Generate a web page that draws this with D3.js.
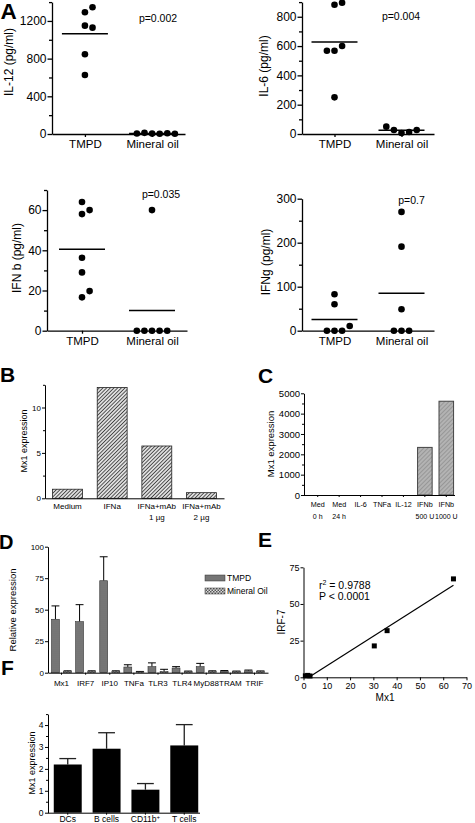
<!DOCTYPE html>
<html><head><meta charset="utf-8">
<script src="https://cdn.jsdelivr.net/npm/d3@7"></script>
<style>body{margin:0;background:#fff}svg{display:block;font-family:"Liberation Sans",Arial,sans-serif}</style>
</head><body><svg id="c" width="475" height="823"></svg>
<script>
// ---------- Panel A data ----------
const aGroups = ["TMPD", "Mineral oil"];
const il12Tmpd = [1293, 1345, 1150, 1129, 846, 626];
const il12Oil = [4, 2, 12, 8, 5, 3];
const il6Tmpd = [882, 896, 568, 600, 568, 250];
const il6Oil = [7, 14, 27, 27, 50];
const ifnbTmpd = [64, 58, 60, 36.3, 29, 16.6, 19.7];
const ifnbOil = [60, 0, 0, 0, 0, 0];
const ifngTmpd = [83, 60, 0, 0, 0, 10.6];
const ifngOil = [270, 191, 48.6, 0, 0, 0];
const aPvalues = ["p=0.002", "p=0.004", "p=0.035", "p=0.7"];
const aLabels = ["IL-12 (pg/ml)", "IL-6 (pg/ml)", "IFN b (pg/ml)", "IFNg (pg/ml)"];
const il12Major = [0, 400, 800, 1200], il12Minor = [200, 600, 1000, 1400];
const il6Major = [0, 200, 400, 600, 800], il6Minor = [100, 300, 500, 700, 900];
const ifnbMajor = [0, 20, 40, 60], ifnbMinor = [10, 30, 50, 70];
const ifngMajor = [0, 100, 200, 300], ifngMinor = [50, 150, 250];

// ---------- Panel B data ----------
const bLine1 = ["Medium", "IFNa", "IFNa+mAb", "IFNa+mAb"];
const bLine2 = ["", "", "1 µg", "2 µg"];
const bValues = [1.0, 12.2, 5.76, 0.62];
const bMajor = [0, 5, 10], bMinor = [2.5, 7.5, 12.5];

// ---------- Panel C data ----------
const cLine1 = ["Med", "Med", "IL-6", "TNFa", "IL-12", "IFNb", "IFNb"];
const cLine2 = ["0 h", "24 h", "", "", "", "500 U", "1000 U"];
const cValues = [0, 0, 0, 0, 0, 2340, 4610];
const cMajor = [0, 1000, 2000, 3000, 4000, 5000], cMinor = [500, 1500, 2500, 3500, 4500];

// ---------- Panel D data ----------
const dGenes = ["Mx1", "IRF7", "IP10", "TNFa", "TLR3", "TLR4", "MyD88", "TRAM", "TRIF"];
const dSeries = ["TMPD", "Mineral Oil"];
const dTmpd = [42.4, 40.5, 73, 4.5, 4.8, 3.7, 4.8, 1.2, 1.5];
const dTmpdErr = [10.6, 13.5, 19, 1.8, 3.0, 1.1, 2.6, 0.5, 0.6];
const dOil = [1.0, 1.0, 1.0, 0.6, 1.0, 0.8, 0.9, 0.8, 0.9];
const dOilErr = [0.5, 0.5, 0.5, 0.4, 1.7, 0.5, 0.6, 0.5, 0.5];
const dMajor = [0, 25, 50, 75, 100];

// ---------- Panel E data ----------
const eMx1 = [64.4, 35.9, 30.4, 0.8, 1.8, 2.8];
const eIrf7 = [67.1, 31.8, 21.4, 1.0, 1.3, 0.9];
const eYTicks = [0, 25, 50, 75];
const eXTicks = [0, 10, 20, 30, 40, 50, 60, 70];

// ---------- Panel F data ----------
const fCells = ["DCs", "B cells", "CD11b", "T cells"];
const fValues = [2.2, 2.92, 1.05, 3.07];
const fErr = [0.27, 0.73, 0.28, 0.95];
const fMajor = [0, 1, 2, 3, 4], fMinor = [0.5, 1.5, 2.5, 3.5, 4.5];

// ================= drawing =================
const FONT = '"Liberation Sans", Arial, sans-serif';
const svg = d3.select("#c");
svg.append("rect").attr("width", 475).attr("height", 823).attr("fill", "#fff");
const defs = svg.append("defs");

function hatch(id, size, bg, stroke, sw, angle) {
  const p = defs.append("pattern").attr("id", id).attr("width", size).attr("height", size)
    .attr("patternUnits", "userSpaceOnUse").attr("patternTransform", `rotate(${angle})`);
  p.append("rect").attr("width", size).attr("height", size).attr("fill", bg);
  p.append("line").attr("x1", size / 2).attr("y1", 0).attr("x2", size / 2).attr("y2", size)
    .attr("stroke", stroke).attr("stroke-width", sw);
}
hatch("patB", 2.6, "#ececec", "#444", 1.0, 45);
hatch("patC", 3, "#b3b3b3", "#8f8f8f", 0.8, 45);
hatch("patD1", 2, "#949494", "#505050", 0.9, 90);
const p2 = defs.append("pattern").attr("id", "patD2").attr("width", 3).attr("height", 3).attr("patternUnits", "userSpaceOnUse");
p2.append("rect").attr("width", 3).attr("height", 3).attr("fill", "#dcdcdc");
p2.append("rect").attr("width", 1.5).attr("height", 1.5).attr("fill", "#555");
p2.append("rect").attr("x", 1.5).attr("y", 1.5).attr("width", 1.5).attr("height", 1.5).attr("fill", "#555");

function styleAxis(g, fs, sw) {
  g.selectAll("path,line").attr("stroke", "#000").attr("stroke-width", sw);
  g.selectAll("text").attr("font-size", fs).attr("fill", "#000").attr("font-family", FONT);
}
function leftAxis(scale, x, majors, minors, fs, majLen, minLen, sw, pad) {
  const g = svg.append("g").attr("transform", `translate(${x},0)`)
    .call(d3.axisLeft(scale).tickValues(majors).tickSize(majLen).tickSizeOuter(0).tickPadding(pad).tickFormat(d3.format("d")));
  styleAxis(g, fs, sw);
  if (minors && minors.length) {
    const gm = svg.append("g").attr("transform", `translate(${x},0)`)
      .call(d3.axisLeft(scale).tickValues(minors).tickSize(minLen).tickSizeOuter(0).tickFormat(""));
    gm.select(".domain").remove();
    styleAxis(gm, fs, sw);
  }
  return g;
}
function letter(t, x, y, size) {
  svg.append("text").attr("x", x).attr("y", y).attr("font-size", size).attr("font-weight", "bold")
    .attr("font-family", FONT).text(t);
}
function yLabel(t, cx, cy, size) {
  svg.append("text").attr("transform", `translate(${cx},${cy}) rotate(-90)`).attr("text-anchor", "middle")
    .attr("dy", "0.35em").attr("font-size", size).attr("font-family", FONT).text(t);
}
function swarm(values, y, r) {
  const placed = [];
  return values.map(v => {
    const py = y(v);
    for (const k of [0, 1, -1, 2, -2, 3, -3, 4, -4]) {
      if (!placed.some(p => p.k === k && Math.abs(p.py - py) < 2 * r)) {
        placed.push({ k, py });
        return { v, k, py };
      }
    }
    return { v, k: 0, py };
  });
}

// ---------- Panel A ----------
function scatterPanel(c) {
  const y = d3.scaleLinear().domain([0, c.yTop]).range([c.y0, c.y1]);
  const x = d3.scalePoint().domain(aGroups).range([c.x0, c.x1]).padding(c.xPad);
  leftAxis(y, c.x0, c.majors, c.minors, 12, 4.5, 3, 1.3, 1);
  const gx = svg.append("g").attr("transform", `translate(0,${c.y0})`)
    .call(d3.axisBottom(x).tickSize(3).tickSizeOuter(0).tickPadding(3.3));
  styleAxis(gx, 11.5, 1.3);
  const d = 7.6, r = 3.3;
  [c.tmpd, c.oil].forEach((vals, i) => {
    const cx = x(aGroups[i]);
    const pts = swarm(vals, y, r);
    svg.append("g").selectAll("circle").data(pts).join("circle")
      .attr("cx", p => cx + p.k * d).attr("cy", p => p.py).attr("r", r).attr("fill", "#000");
    const m = d3.mean(vals);
    svg.append("line").attr("x1", cx - 23).attr("x2", cx + 23).attr("y1", y(m)).attr("y2", y(m))
      .attr("stroke", "#000").attr("stroke-width", 1.5);
  });
  svg.append("text").attr("x", c.px).attr("y", c.py).attr("text-anchor", "middle").attr("font-size", 10.5)
    .attr("font-family", FONT).text(c.p);
  yLabel(c.label, c.lx, c.ly, 12);
}
scatterPanel({ tmpd: il12Tmpd, oil: il12Oil, yTop: 1400, y0: 134, y1: 2.1, x0: 52, x1: 185, xPad: 0.49,
  majors: il12Major, minors: il12Minor, p: aPvalues[0], px: 158, py: 22, label: aLabels[0], lx: 8.5, ly: 62 });
scatterPanel({ tmpd: il6Tmpd, oil: il6Oil, yTop: 900, y0: 134, y1: 2.1, x0: 302, x1: 434, xPad: 0.485,
  majors: il6Major, minors: il6Minor, p: aPvalues[1], px: 401, py: 19.5, label: aLabels[1], lx: 263.5, ly: 66 });
scatterPanel({ tmpd: ifnbTmpd, oil: ifnbOil, yTop: 70, y0: 330.7, y1: 190, x0: 47, x1: 187, xPad: 0.5,
  majors: ifnbMajor, minors: ifnbMinor, p: aPvalues[2], px: 161, py: 197.5, label: aLabels[2], lx: 17, ly: 258 });
scatterPanel({ tmpd: ifngTmpd, oil: ifngOil, yTop: 300, y0: 330.7, y1: 198.7, x0: 302, x1: 434, xPad: 0.485,
  majors: ifngMajor, minors: ifngMinor, p: aPvalues[3], px: 411.5, py: 204, label: aLabels[3], lx: 265.5, ly: 262 });
letter("A", 0.5, 19, 22.5);

// ---------- Panel B ----------
{
  const x = d3.scaleBand().domain(d3.range(bValues.length)).range([45, 224]).paddingInner(0.33).paddingOuter(0.17);
  const y = d3.scaleLinear().domain([0, 12.5]).range([498.3, 384.8]);
  svg.append("g").selectAll("rect").data(bValues).join("rect")
    .attr("x", (v, i) => x(i)).attr("y", v => y(v)).attr("width", x.bandwidth()).attr("height", v => y(0) - y(v))
    .attr("fill", "url(#patB)").attr("stroke", "#222").attr("stroke-width", 0.8);
  leftAxis(y, 45, bMajor, bMinor, 8, 3, 2, 1, 1);
  const gx = svg.append("g").attr("transform", `translate(0,${y(0)})`)
    .call(d3.axisBottom(x).tickSize(0).tickSizeOuter(0).tickPadding(5.5).tickFormat(i => bLine1[i]));
  styleAxis(gx, 8, 1);
  gx.selectAll(".tick").append("text").attr("y", 22).attr("fill", "#000").attr("font-size", 8)
    .attr("font-family", FONT).attr("text-anchor", "middle").text(i => bLine2[i]);
  yLabel("Mx1 expression", 24, 441, 9);
  letter("B", 0, 382, 21);
}

// ---------- Panel C ----------
{
  const x = d3.scaleBand().domain(d3.range(cValues.length)).range([304, 460]).paddingInner(0.32).paddingOuter(0.3);
  const y = d3.scaleLinear().domain([0, 5000]).range([495, 393.3]);
  svg.append("g").selectAll("rect").data(cValues).join("rect")
    .attr("x", (v, i) => x(i)).attr("y", v => y(v)).attr("width", x.bandwidth()).attr("height", v => y(0) - y(v))
    .attr("fill", "url(#patC)").attr("stroke", v => v > 0 ? "#444" : "none").attr("stroke-width", 1);
  leftAxis(y, 304, cMajor, cMinor, 9.5, 3, 2, 1, 1);
  const gx = svg.append("g").attr("transform", `translate(0,${y(0)})`)
    .call(d3.axisBottom(x).tickSize(2).tickSizeOuter(0).tickPadding(4.5).tickFormat(i => cLine1[i]));
  gx.select(".domain").attr("d", `M304,0.5H455`);
  styleAxis(gx, 7.2, 1);
  gx.selectAll(".tick").append("text").attr("y", 24).attr("fill", "#000").attr("font-size", 7)
    .attr("font-family", FONT).attr("text-anchor", "middle").text(i => cLine2[i]);
  yLabel("Mx1 expression", 270.5, 444, 9.5);
  letter("C", 258, 383, 21);
}

// ---------- Panel D ----------
{
  const x = d3.scaleBand().domain(dGenes).range([48, 268]).paddingInner(0.12).paddingOuter(0.12);
  const xs = d3.scaleBand().domain(dSeries).range([0, x.bandwidth()]).paddingInner(0.35).paddingOuter(0.05);
  const y = d3.scaleLinear().domain([0, 100]).range([672.7, 546.7]);
  const rows = [];
  dGenes.forEach((g, i) => {
    rows.push({ g, s: dSeries[0], v: dTmpd[i], e: dTmpdErr[i], fill: "url(#patD1)" });
    rows.push({ g, s: dSeries[1], v: dOil[i], e: dOilErr[i], fill: "url(#patD2)" });
  });
  const bw = xs.bandwidth();
  const gb = svg.append("g");
  gb.selectAll("line.err").data(rows).join("line").attr("class", "err")
    .attr("x1", d => x(d.g) + xs(d.s) + bw / 2).attr("x2", d => x(d.g) + xs(d.s) + bw / 2)
    .attr("y1", d => y(d.v)).attr("y2", d => y(d.v + d.e)).attr("stroke", "#000").attr("stroke-width", 1);
  gb.selectAll("line.cap").data(rows).join("line").attr("class", "cap")
    .attr("x1", d => x(d.g) + xs(d.s)).attr("x2", d => x(d.g) + xs(d.s) + bw)
    .attr("y1", d => y(d.v + d.e)).attr("y2", d => y(d.v + d.e)).attr("stroke", "#000").attr("stroke-width", 1);
  gb.selectAll("rect").data(rows).join("rect")
    .attr("x", d => x(d.g) + xs(d.s)).attr("y", d => y(d.v)).attr("width", bw).attr("height", d => y(0) - y(d.v))
    .attr("fill", d => d.fill).attr("stroke", "#333").attr("stroke-width", 0.6);
  leftAxis(y, 48, dMajor, [], 8, 3, 2, 1, 1);
  const gx = svg.append("g").attr("transform", `translate(0,${y(0)})`)
    .call(d3.axisBottom(x).tickSize(2).tickSizeOuter(0).tickPadding(5.6));
  styleAxis(gx, 8, 1);
  yLabel("Relative expression", 13, 610, 9.5);
  const lg = svg.append("g");
  dSeries.forEach((s, i) => {
    lg.append("rect").attr("x", 205).attr("y", 575 + i * 13).attr("width", 20).attr("height", 6)
      .attr("fill", i === 0 ? "url(#patD1)" : "url(#patD2)").attr("stroke", "#333").attr("stroke-width", 0.5);
    lg.append("text").attr("x", 227).attr("y", 581 + i * 13).attr("font-size", 8.5).attr("font-family", FONT).text(s);
  });
  letter("D", -1, 548.5, 20);
}

// ---------- Panel E ----------
{
  const x = d3.scaleLinear().domain([0, 70]).range([303.5, 466.5]);
  const y = d3.scaleLinear().domain([0, 75]).range([677.3, 567.3]);
  leftAxis(y, 303.5, eYTicks, [], 9, 3, 2, 1, 1);
  const gx = svg.append("g").attr("transform", `translate(0,${y(0)})`)
    .call(d3.axisBottom(x).tickValues(eXTicks).tickSize(3).tickSizeOuter(0).tickPadding(2).tickFormat(d3.format("d")));
  styleAxis(gx, 9, 1);
  const mx = d3.mean(eMx1), my = d3.mean(eIrf7);
  const sxy = d3.sum(eMx1, (v, i) => (v - mx) * (eIrf7[i] - my));
  const sxx = d3.sum(eMx1, v => (v - mx) ** 2);
  const b = sxy / sxx, a = my - b * mx;
  const xStart = Math.max(d3.min(eMx1), -a / b), xEnd = d3.max(eMx1);
  svg.append("line").attr("x1", x(xStart)).attr("y1", y(a + b * xStart)).attr("x2", x(xEnd)).attr("y2", y(a + b * xEnd))
    .attr("stroke", "#000").attr("stroke-width", 1.2);
  svg.append("g").selectAll("rect").data(eMx1).join("rect")
    .attr("x", (v) => x(v) - 2.5).attr("y", (v, i) => y(eIrf7[i]) - 2.5).attr("width", 5).attr("height", 5).attr("fill", "#000");
  const t1 = svg.append("text").attr("x", 319).attr("y", 589).attr("font-size", 10.5).attr("font-family", FONT);
  t1.append("tspan").text("r");
  t1.append("tspan").attr("dy", -4).attr("font-size", 7).text("2");
  t1.append("tspan").attr("dy", 4).text(" = 0.9788");
  svg.append("text").attr("x", 319).attr("y", 600).attr("font-size", 10.5).attr("font-family", FONT).text("P < 0.0001");
  svg.append("text").attr("x", 385).attr("y", 701).attr("text-anchor", "middle").attr("font-size", 10).attr("font-family", FONT).text("Mx1");
  yLabel("IRF-7", 281, 622, 10);
  letter("E", 258, 547, 21);
}

// ---------- Panel F ----------
{
  const x = d3.scaleBand().domain(fCells).range([46, 206]).paddingInner(0.28).paddingOuter(0.2);
  const y = d3.scaleLinear().domain([0, 4.5]).range([812.7, 714.1]);
  const bw = x.bandwidth();
  const g = svg.append("g");
  g.selectAll("line.err").data(fCells).join("line").attr("class", "err")
    .attr("x1", c => x(c) + bw / 2).attr("x2", c => x(c) + bw / 2)
    .attr("y1", (c, i) => y(fValues[i])).attr("y2", (c, i) => y(fValues[i] + fErr[i])).attr("stroke", "#222").attr("stroke-width", 1.3);
  g.selectAll("line.cap").data(fCells).join("line").attr("class", "cap")
    .attr("x1", c => x(c) + bw * 0.2).attr("x2", c => x(c) + bw * 0.8)
    .attr("y1", (c, i) => y(fValues[i] + fErr[i])).attr("y2", (c, i) => y(fValues[i] + fErr[i])).attr("stroke", "#222").attr("stroke-width", 1.3);
  g.selectAll("rect").data(fCells).join("rect")
    .attr("x", c => x(c)).attr("y", (c, i) => y(fValues[i])).attr("width", bw).attr("height", (c, i) => y(0) - y(fValues[i]))
    .attr("fill", "#000");
  leftAxis(y, 48, fMajor, fMinor, 8.5, 3, 2, 1, 1.5);
  const gx = svg.append("g").attr("transform", `translate(0,${y(0)})`)
    .call(d3.axisBottom(x).tickSize(2).tickSizeOuter(0).tickPadding(1.5));
  gx.select(".domain").attr("d", "M48,0.5H200");
  styleAxis(gx, 8.5, 1);
  gx.selectAll(".tick text").filter(c => c === "CD11b").append("tspan").attr("dy", -3).attr("font-size", 6).text("+");
  yLabel("Mx1 expression", 32, 763, 9);
  letter("F", 1, 675, 21);
}
</script></body></html>
